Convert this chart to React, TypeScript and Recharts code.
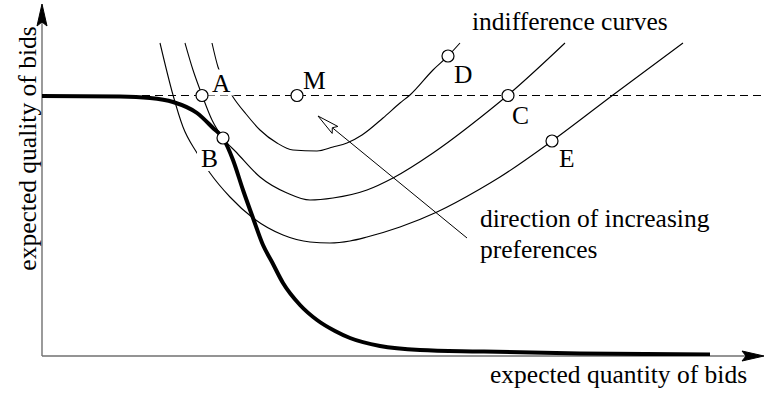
import React from 'react';
import { ComposedChart, Line, Scatter, XAxis, YAxis, ReferenceLine } from 'recharts';

// ---- data (x = expected quantity, y = expected quality, arbitrary units) ----
const frontierX = [0, 78, 108, 131, 155, 171, 181, 191, 201, 211, 221, 230, 241, 258, 275, 293, 308, 338, 378, 438, 538, 668];
const frontierY = [260, 259.5, 258, 254, 243, 228, 218, 196, 166, 138, 111, 94, 73, 51, 36, 25, 18, 10, 6, 4.5, 2.5, 1.5];

const outerX = [118, 131, 141, 155, 168, 188, 211, 241, 268, 288, 308, 325, 358, 395, 438, 458, 510, 571, 641];
const outerY = [313, 261, 229, 203, 183, 159, 138, 121, 114, 113, 115, 119, 129, 144, 167, 179, 215, 261, 313];

const middleX = [143, 151, 160, 170, 181, 195, 218, 245, 268, 291, 325, 351, 391, 439, 466, 523];
const middleY = [313, 286, 261, 236, 218, 203, 179, 163, 156, 158, 166, 178, 203, 239, 261, 313];

const innerX = [170, 176, 183, 191, 204, 218, 235, 251, 275, 291, 305, 320, 341, 358, 368, 391, 406, 418];
const innerY = [313, 289, 273, 259, 242, 226, 213, 206, 205, 209, 213, 221, 238, 253, 261, 286, 300, 313];

const pointNames = ['A', 'M', 'D', 'C', 'B', 'E'];
const pointX = [160, 255, 406, 466, 181, 510];
const pointY = [260.5, 260.5, 300, 260.5, 218, 215];

const levelX = [100, 723];
const levelY = [260.5, 260.5];

const arrowFrom = { x: 425, y: 118 };
const arrowTo = { x: 276, y: 240 };

const xAxisEnd = 722;
const yAxisEnd = 352;

const xTitle = 'expected quantity of bids';
const yTitle = 'expected quality of bids';
const curvesTitle = 'indifference curves';
const arrowTitle = ['direction of increasing', 'preferences'];

// ---- helpers / layout ----
const rows = (xs: number[], ys: number[]) => xs.map((x, i) => ({ x, y: ys[i] }));
const pointRows = pointNames.map((name, i) => ({ name, x: pointX[i], y: pointY[i] }));

const FONT = "'Liberation Serif', 'Times New Roman', Times, serif";
const FS = 25.5;

const labelLayout: Record<string, { dx: number; dy: number; w: number }> = {
  A: { dx: 10, dy: -4, w: 18.4 },
  M: { dx: 6, dy: -7, w: 22.7 },
  D: { dx: 6, dy: 27, w: 18.4 },
  C: { dx: 4, dy: 28, w: 17 },
  E: { dx: 7, dy: 26, w: 15.6 },
  B: { dx: -22, dy: 29, w: 17 },
};

const PointMark = (props: any) => {
  const { cx, cy, payload } = props;
  if (cx == null || cy == null) return null;
  const lay = labelLayout[payload.name];
  const lx = cx + lay.dx;
  const by = cy + lay.dy;
  return (
    <g>
      <rect x={lx - 4} y={by - 22} width={lay.w + 8} height={26} fill="#fff" />
      <text x={lx} y={by} fontFamily={FONT} fontSize={FS} fill="#000">
        {payload.name}
      </text>
      <circle cx={cx} cy={cy} r={6} fill="#fff" stroke="#000" strokeWidth={1.2} />
    </g>
  );
};

const makeArrow =
  (o: { stroke: string; width: number; len: number; half: number; notch: number; fill: string; headStroke: string }) =>
  (props: any) => {
    const { x1, y1, x2, y2 } = props;
    const dx = x2 - x1;
    const dy = y2 - y1;
    const L = Math.sqrt(dx * dx + dy * dy) || 1;
    const ux = dx / L;
    const uy = dy / L;
    const px = -uy;
    const py = ux;
    const bx = x2 - ux * o.len;
    const by = y2 - uy * o.len;
    const nx = x2 - ux * (o.len - o.notch);
    const ny = y2 - uy * (o.len - o.notch);
    const d = `M${x2},${y2} L${bx + px * o.half},${by + py * o.half} L${nx},${ny} L${bx - px * o.half},${by - py * o.half} Z`;
    return (
      <g>
        <line x1={x1} y1={y1} x2={nx} y2={ny} stroke={o.stroke} strokeWidth={o.width} />
        <path d={d} fill={o.fill} stroke={o.headStroke} strokeWidth={1} strokeLinejoin="miter" />
      </g>
    );
  };

const axisArrow = makeArrow({ stroke: '#707070', width: 1.4, len: 22, half: 5, notch: 4, fill: '#000', headStroke: '#000' });
const prefArrow = makeArrow({ stroke: '#000', width: 1, len: 22, half: 4.5, notch: 3.5, fill: '#fff', headStroke: '#000' });

export default function App() {
  return (
    <div style={{ position: 'absolute', left: 0, top: 0, width: 765, height: 393, background: '#fff' }}>
      <ComposedChart width={765} height={393} margin={{ top: 0, right: 0, bottom: 37, left: 42 }}>
        <XAxis type="number" dataKey="x" domain={[0, 723]} hide allowDataOverflow />
        <YAxis type="number" dataKey="y" domain={[0, 356]} hide allowDataOverflow />
        <ReferenceLine
          segment={[{ x: 0, y: 0 }, { x: xAxisEnd, y: 0 }]}
          ifOverflow="visible"
          stroke="#707070"
          shape={axisArrow}
        />
        <ReferenceLine
          segment={[{ x: 0, y: 0 }, { x: 0, y: yAxisEnd }]}
          ifOverflow="visible"
          stroke="#707070"
          shape={axisArrow}
        />
        <Line data={rows(levelX, levelY)} dataKey="y" type="linear" stroke="#000" strokeWidth={1}
          strokeDasharray="8 5" dot={false} activeDot={false} isAnimationActive={false} />
        <Line data={rows(outerX, outerY)} dataKey="y" type="monotone" stroke="#000" strokeWidth={1.1}
          dot={false} activeDot={false} isAnimationActive={false} />
        <Line data={rows(middleX, middleY)} dataKey="y" type="monotone" stroke="#000" strokeWidth={1.1}
          dot={false} activeDot={false} isAnimationActive={false} />
        <Line data={rows(innerX, innerY)} dataKey="y" type="monotone" stroke="#000" strokeWidth={1.1}
          dot={false} activeDot={false} isAnimationActive={false} />
        <Line data={rows(frontierX, frontierY)} dataKey="y" type="monotone" stroke="#000" strokeWidth={4}
          dot={false} activeDot={false} isAnimationActive={false} />
        <ReferenceLine
          segment={[arrowFrom, arrowTo]}
          ifOverflow="visible"
          stroke="#000"
          shape={prefArrow}
        />
        <Scatter data={pointRows} dataKey="y" shape={PointMark} isAnimationActive={false} />
      </ComposedChart>
      <svg width={765} height={393} style={{ position: 'absolute', left: 0, top: 0, pointerEvents: 'none' }}>
        <g fontFamily={FONT} fontSize={FS} fill="#000">
          <text x={472} y={30}>{curvesTitle}</text>
          <text x={480} y={227}>{arrowTitle[0]}</text>
          <text x={480} y={258}>{arrowTitle[1]}</text>
          <text x={490} y={383}>{xTitle}</text>
          <text x={35.5} y={148.5} textAnchor="middle" transform="rotate(-90, 35.5, 148.5)">{yTitle}</text>
        </g>
      </svg>
    </div>
  );
}
